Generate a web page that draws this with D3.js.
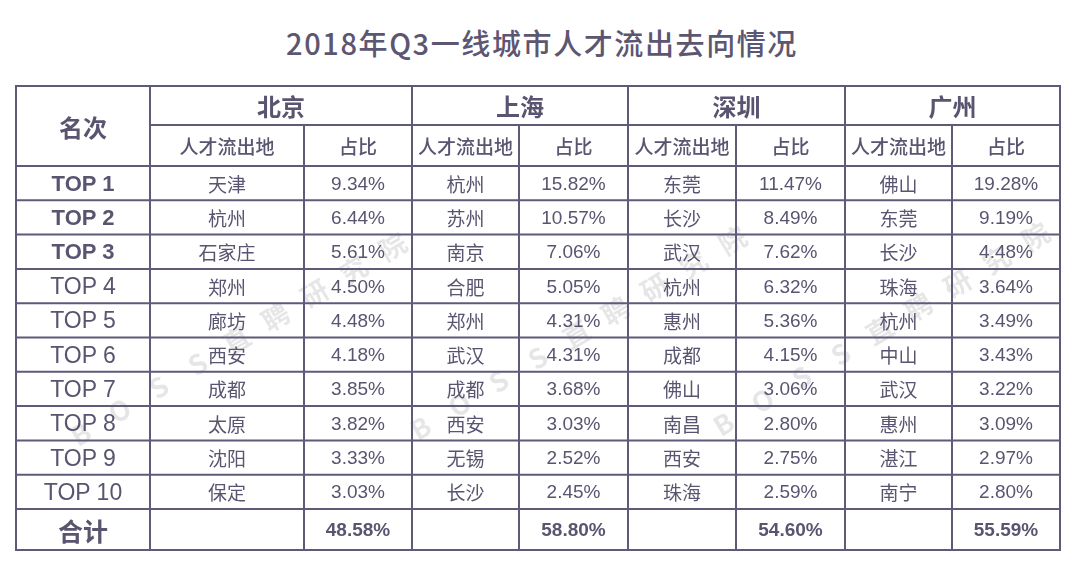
<!DOCTYPE html>
<html><head><meta charset="utf-8">
<script src="https://cdn.jsdelivr.net/npm/d3@7"></script>
<style>
html,body{margin:0;padding:0;background:#fff;}
svg{display:block;}
</style></head>
<body>
<svg id="chart" width="1080" height="567"></svg>
<script>
// ---------------- data ----------------
const title = "2018年Q3一线城市人才流出去向情况";
const cities = ["北京", "上海", "深圳", "广州"];
const ranks = ["TOP 1","TOP 2","TOP 3","TOP 4","TOP 5","TOP 6","TOP 7","TOP 8","TOP 9","TOP 10"];
const beijingDest = ["天津","杭州","石家庄","郑州","廊坊","西安","成都","太原","沈阳","保定"];
const beijingShare = [9.34,6.44,5.61,4.50,4.48,4.18,3.85,3.82,3.33,3.03];
const shanghaiDest = ["杭州","苏州","南京","合肥","郑州","武汉","成都","西安","无锡","长沙"];
const shanghaiShare = [15.82,10.57,7.06,5.05,4.31,4.31,3.68,3.03,2.52,2.45];
const shenzhenDest = ["东莞","长沙","武汉","杭州","惠州","成都","佛山","南昌","西安","珠海"];
const shenzhenShare = [11.47,8.49,7.62,6.32,5.36,4.15,3.06,2.80,2.75,2.59];
const guangzhouDest = ["佛山","东莞","长沙","珠海","杭州","中山","武汉","惠州","湛江","南宁"];
const guangzhouShare = [19.28,9.19,4.48,3.64,3.49,3.43,3.22,3.09,2.97,2.80];
const totals = [48.58, 58.80, 54.60, 55.59];
const rankHeader = "名次";
const destHeader = "人才流出地";
const shareHeader = "占比";
const totalLabel = "合计";
const watermark = "BOSS直聘研究院";

const dests = [beijingDest, shanghaiDest, shenzhenDest, guangzhouDest];
const shares = [beijingShare, shanghaiShare, shenzhenShare, guangzhouShare];

// ---------------- layout ----------------
const svg = d3.select("#chart");
const textColor = "#5a5470";
const lineColor = "#5f5a78";
const latin = "'Liberation Sans', 'Noto Sans CJK SC', sans-serif";
const cjk = "'Noto Sans CJK SC', sans-serif";

const colEdges = [16, 150, 304, 412, 519, 628, 736, 845, 952, 1060];
const tableTop = 86, head1 = 125, head2 = 166, dataBottom = 509, tableBottom = 550;

const rowY = d3.scaleBand().domain(d3.range(ranks.length)).range([head2, dataBottom]);
const fmt = d3.format(".2f");

// title
svg.append("text")
  .attr("x", 542).attr("y", 42)
  .attr("text-anchor", "middle").attr("dominant-baseline", "central")
  .attr("font-family", cjk).attr("font-size", 29).attr("font-weight", 500)
  .attr("letter-spacing", 1.6)
  .attr("fill", "#5d5672")
  .text(title);

// watermark (three repeats)
const wmStarts = [[80, 433], [420, 427], [723, 423]];
const ang = -31 * Math.PI / 180;
const wmChars = Array.from(watermark);
const wm = svg.append("g").attr("fill", "#000").attr("opacity", 0.1)
  .attr("font-family", cjk).attr("font-size", 27).attr("font-weight", "bold");
wmStarts.forEach(([sx, sy]) => {
  wmChars.forEach((ch, i) => {
    const x = sx + Math.cos(ang) * 45.5 * i;
    const y = sy + Math.sin(ang) * 45.5 * i;
    wm.append("text").attr("x", x).attr("y", y)
      .attr("text-anchor", "middle").attr("dominant-baseline", "central")
      .attr("transform", `rotate(-31,${x},${y})`)
      .text(ch);
  });
});

function cell(x, y, txt, opts) {
  return svg.append("text")
    .attr("x", x).attr("y", y)
    .attr("text-anchor", "middle").attr("dominant-baseline", "central")
    .attr("font-family", opts.family || latin)
    .attr("font-size", opts.size)
    .attr("font-weight", opts.weight || "normal")
    .attr("fill", textColor)
    .text(txt);
}
const mid = (a, b) => (a + b) / 2;

// header
cell(mid(colEdges[0], colEdges[1]), mid(tableTop, head2), rankHeader, {family: cjk, size: 24, weight: "bold"});
cities.forEach((c, i) => {
  const x0 = colEdges[1 + 2*i], x1 = colEdges[3 + 2*i], xm = colEdges[2 + 2*i];
  cell(mid(x0, x1), mid(tableTop, head1), c, {family: cjk, size: 24, weight: "bold"});
  cell(mid(x0, xm), mid(head1, head2), destHeader, {family: cjk, size: 19, weight: 500});
  cell(mid(xm, x1), mid(head1, head2), shareHeader, {family: cjk, size: 19, weight: 500});
});

// data rows
ranks.forEach((r, j) => {
  const yc = rowY(j) + rowY.bandwidth() / 2;
  cell(mid(colEdges[0], colEdges[1]), yc, r, {size: j < 3 ? 22 : 23, weight: j < 3 ? "bold" : "normal"});
});
cities.forEach((c, i) => {
  const x0 = colEdges[1 + 2*i], xm = colEdges[2 + 2*i], x1 = colEdges[3 + 2*i];
  dests[i].forEach((d, j) => {
    const yc = rowY(j) + rowY.bandwidth() / 2;
    cell(mid(x0, xm), yc, d, {family: cjk, size: 19});
    cell(mid(xm, x1), yc, fmt(shares[i][j]) + "%", {size: 19});
  });
  cell(mid(xm, x1), mid(dataBottom, tableBottom), fmt(totals[i]) + "%", {size: 19, weight: "bold"});
});
cell(mid(colEdges[0], colEdges[1]), mid(dataBottom, tableBottom), totalLabel, {family: cjk, size: 25, weight: "bold"});

// grid lines
const g = svg.append("g").attr("stroke", lineColor).attr("stroke-width", 2).attr("fill", "none");
const hLines = [];
hLines.push([colEdges[0], colEdges[9], tableTop]);
hLines.push([colEdges[1], colEdges[9], head1]);
hLines.push([colEdges[0], colEdges[9], head2]);
d3.range(1, ranks.length).forEach(j => hLines.push([colEdges[0], colEdges[9], rowY(j)]));
hLines.push([colEdges[0], colEdges[9], dataBottom]);
hLines.push([colEdges[0], colEdges[9], tableBottom]);
hLines.forEach(([a, b, y]) => g.append("line").attr("x1", a - 1).attr("x2", b + 1).attr("y1", y).attr("y2", y));
colEdges.forEach((x, k) => {
  const top = (k % 2 === 0 && k !== 0 && k !== 9) ? head1 : tableTop;
  g.append("line").attr("x1", x).attr("x2", x).attr("y1", top).attr("y2", tableBottom);
});
</script>
</body></html>
